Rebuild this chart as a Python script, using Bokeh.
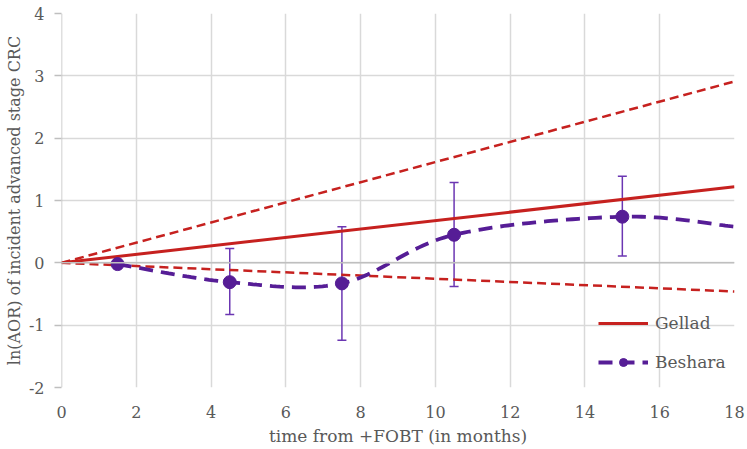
import numpy as np
from bokeh.plotting import figure
from bokeh.models import (ColumnDataSource, Whisker, TeeHead, Legend, LegendItem,
                          Span, FixedTicker, PrintfTickFormatter)
from bokeh.embed import file_html
from bokeh.resources import INLINE

# ---- data ----
gellad_x = [0, 18]
gellad_y = [0, 1.22]
gellad_upper_y = [0, 2.91]
gellad_lower_y = [0, -0.46]

beshara_x = [1.5, 4.5, 7.5, 10.5, 15]
beshara_y = [-0.02, -0.31, -0.33, 0.45, 0.74]
beshara_lo = [-0.02, -0.83, -1.24, -0.38, 0.11]
beshara_hi = [-0.02, 0.23, 0.58, 1.29, 1.39]
beshara_curve_x = [1.5, 4.5, 7.5, 10.5, 15, 18]
beshara_curve_y = [-0.02, -0.31, -0.33, 0.45, 0.74, 0.58]

x_ticks = [0, 2, 4, 6, 8, 10, 12, 14, 16, 18]
y_ticks = [-2, -1, 0, 1, 2, 3, 4]

RED = "#C6211F"
PURPLE = "#561D96"
ERR = "#6B36B2"
FONT = "DejaVu Serif"
TXT = "#595959"
GRID = "#D9D9D9"


def smooth(xs, ys, n=30):
    # Excel-style smoothed line: cubic Bezier segments with 1/6 tangents
    P = np.column_stack([xs, ys]).astype(float)
    out = []
    for i in range(len(P) - 1):
        p0 = P[i - 1] if i > 0 else P[i]
        p1 = P[i]
        p2 = P[i + 1]
        p3 = P[i + 2] if i + 2 < len(P) else P[i + 1]
        c1 = p1 + (p2 - p0) / 6.0
        c2 = p2 - (p3 - p1) / 6.0
        t = np.linspace(0, 1, n)[:, None]
        seg = ((1 - t) ** 3) * p1 + 3 * ((1 - t) ** 2) * t * c1 + 3 * (1 - t) * t ** 2 * c2 + t ** 3 * p2
        out.append(seg if i == 0 else seg[1:])
    a = np.vstack(out)
    return a[:, 0], a[:, 1]


p = figure(width=747, height=449, output_backend="svg", toolbar_location=None,
           x_range=(0, 18), y_range=(-2, 4),
           min_border_left=61, min_border_right=13, min_border_top=13, min_border_bottom=62)
p.outline_line_color = None
p.background_fill_color = "white"

p.xgrid.ticker = FixedTicker(ticks=x_ticks)
p.ygrid.ticker = FixedTicker(ticks=y_ticks)
p.xgrid.grid_line_color = GRID
p.ygrid.grid_line_color = GRID
p.xgrid.grid_line_width = 1.5
p.ygrid.grid_line_width = 1.5

p.xaxis.ticker = FixedTicker(ticks=x_ticks)
p.yaxis.ticker = FixedTicker(ticks=y_ticks)
p.yaxis.formatter = PrintfTickFormatter(format="%d")
p.xaxis.formatter = PrintfTickFormatter(format="%d")
for ax in (p.xaxis[0], p.yaxis[0]):
    ax.axis_line_color = None
    ax.major_label_text_font = FONT
    ax.major_label_text_font_size = "16px"
    ax.major_label_text_color = TXT
    ax.axis_label_text_font = FONT
    ax.axis_label_text_color = TXT
    ax.axis_label_text_font_style = "normal"
    ax.minor_tick_line_color = None
p.xaxis.axis_label_text_font_size = "17px"
p.yaxis.axis_label_text_font_size = "16px"
p.xaxis.major_tick_line_color = None
p.xaxis.major_label_standoff = 12
p.xaxis.axis_label_standoff = 5
p.yaxis.major_tick_line_color = "#BFBFBF"
p.yaxis.major_tick_line_width = 1.5
p.yaxis.major_tick_out = 7
p.yaxis.major_tick_in = 0
p.yaxis.major_label_standoff = 10
p.yaxis.axis_label_standoff = 2
p.xaxis.axis_label = "time from +FOBT (in months)"
p.yaxis.axis_label = "ln(AOR) of incident advanced stage CRC"

p.add_layout(Span(location=0, dimension="width", line_color="#BFBFBF", line_width=1.5))
p.add_layout(Span(location=0, dimension="height", line_color="#BFBFBF", line_width=1.5))

# Gellad
up = p.line(gellad_x, gellad_upper_y, line_color=RED, line_width=2.5, line_dash="9 5")
lo = p.line(gellad_x, gellad_lower_y, line_color=RED, line_width=2.5, line_dash="9 5")
g = p.line(gellad_x, gellad_y, line_color=RED, line_width=3)

# Beshara
cx, cy = smooth(beshara_curve_x, beshara_curve_y)
b_line = p.line(cx, cy, line_color=PURPLE, line_width=3.8, line_dash="14 8")
src = ColumnDataSource(dict(x=beshara_x, y=beshara_y, lo=beshara_lo, hi=beshara_hi))
w = Whisker(base="x", lower="lo", upper="hi", source=src, line_color=ERR, line_width=1.5,
            upper_head=TeeHead(size=9, line_color=ERR, line_width=1.5),
            lower_head=TeeHead(size=9, line_color=ERR, line_width=1.5))
p.add_layout(w)
b_pts = p.scatter("x", "y", source=src, size=13, fill_color=PURPLE, line_color=PURPLE)

legend = Legend(items=[LegendItem(label="Gellad", renderers=[g]),
                       LegendItem(label="Beshara", renderers=[b_line, b_pts])],
                location=(537, 15), orientation="vertical",
                glyph_width=50, glyph_height=20, label_height=20, spacing=19,
                label_standoff=7, padding=0, margin=0,
                border_line_color=None, background_fill_alpha=0,
                label_text_font=FONT, label_text_font_size="17px", label_text_color=TXT)
p.add_layout(legend)

open("out.html", "w").write(file_html(p, INLINE))
